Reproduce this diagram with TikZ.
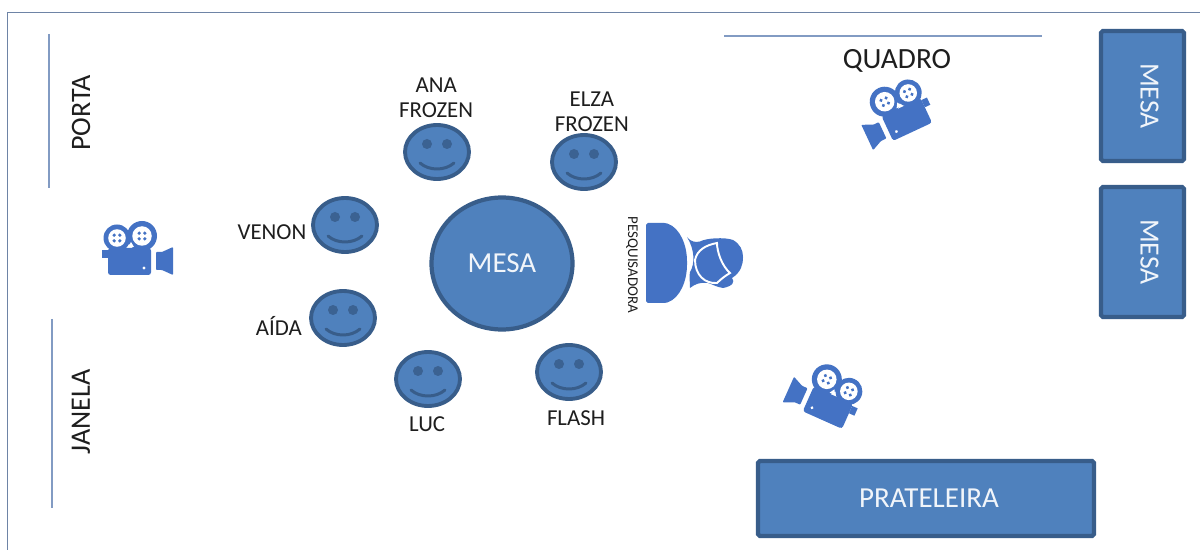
\documentclass[tikz,border=0pt]{standalone}
\usepackage{fontspec}
\setmainfont{Carlito}
\usepackage[dvipsnames]{xcolor}
\usetikzlibrary{positioning,shapes.geometric}
\definecolor{fillblue}{RGB}{79,129,189}
\definecolor{edgeblue}{RGB}{56,93,138}
\definecolor{iconblue}{RGB}{68,114,196}
\definecolor{wallblue}{RGB}{130,155,195}
\definecolor{textgray}{RGB}{30,30,30}
\tikzset{%
  BoxStyle/.style={draw=edgeblue,fill=fillblue,line width=2.4pt,rounded corners=1pt,text=white!92!fillblue,font=\fontsize{16.5}{20}\selectfont},
  TableStyle/.style={ellipse,draw=edgeblue,fill=fillblue,line width=2.4pt,minimum width=2.82cm,minimum height=2.64cm,inner sep=0pt,text=white!92!fillblue,font=\fontsize{16.5}{20}\selectfont},
  FaceStyle/.style={ellipse,draw=edgeblue,fill=fillblue,line width=2.2pt,minimum width=1.28cm,minimum height=1.08cm},
  NameStyle/.style={text=textgray,align=center,font=\fontsize{13}{14.2}\selectfont,inner sep=0pt},
  WallStyle/.style={text=textgray,font=\fontsize{16}{20}\selectfont,inner sep=0pt},
  WallLine/.style={draw=wallblue,line width=.9pt},
  pics/smile/.style={code={
    \fill[edgeblue!85!fillblue] (-10,-8) circle (5) (10,-8) circle (5);
    \draw[edgeblue,line width=1.7pt,line cap=round] (-17,11) .. controls (-8,19) and (8,19) .. (17,11);
  }},
  pics/movie/.style={code={
    \fill[iconblue,rounded corners=1.5pt] (-30,1) rectangle (13,28);
    \fill[iconblue] (-36,3) rectangle (-30,11);
    \fill[iconblue,rounded corners=.5pt] (18,5) -- (24,5) -- (35,0) -- (35,28) -- (24,23) -- (18,23) -- cycle;
    \foreach \px/\py/\pr in {-21/-9/13.5,4/-11/15}{
      \fill[iconblue] (\px,\py) circle (\pr);
      \fill[white] (\px,\py) circle ({\pr*.65});
      \foreach \ang in {45,135,225,315}
        \fill[iconblue] (\px,\py) ++(\ang:4) circle (1.8);
    }
    \fill[white] (-7,-5) -- (-10,0) -- (-4,0) -- cycle;
    \fill[white] (6,21) circle (1.6);
  }}
}
\begin{document}
\begin{tikzpicture}[x=.02cm,y=-.02cm]
  \useasboundingbox (0,0) rectangle (1200,550);
  \fill[white] (0,0) rectangle (1200,550);
  % frame and walls
  \draw[draw=wallblue!85!black,line width=.9pt] (7.5,550) -- (7.5,12.5) -- (1200,12.5);
  \draw[WallLine] (49,34) -- (49,188);
  \draw[WallLine] (52,319) -- (52,508);
  \draw[WallLine] (724,36) -- (1042,36);
  \node[WallStyle,rotate=90] (porta) at (81,113) {PORTA};
  \node[WallStyle,rotate=90] (janela) at (81,412) {JANELA};
  \node[WallStyle,font=\fontsize{16.7}{20}\selectfont] (quadro) at (897,61) {QUADRO};
  % furniture
  \node[TableStyle] (mesa) at (502,263.5) {MESA};
  \node[BoxStyle,rotate=-90,minimum width=2.6cm,minimum height=1.66cm,text depth=8pt,font=\fontsize{15.8}{20}\selectfont] (mesaA) at (1142.5,96) {MESA};
  \node[BoxStyle,rotate=-90,minimum width=2.6cm,minimum height=1.66cm,text depth=8pt,font=\fontsize{15.8}{20}\selectfont] (mesaB) at (1142.5,252) {MESA};
  \node[BoxStyle,minimum width=6.72cm,minimum height=1.5cm] (prateleira) at (926,498.5) {\hspace*{3.4pt}PRATELEIRA};
  % children
  \foreach \name/\fx/\fy in {ana/437/152,elza/584/162,venon/345/225,aida/343/318,luc/428/379,flash/569/372}{
    \node[FaceStyle] (\name) at (\fx,\fy) {};
    \pic at (\fx,\fy) {smile};
  }
  \node[NameStyle,above=3pt of ana,xshift=-.5pt] (anaName) {ANA\\FROZEN};
  \node[NameStyle,above=.5pt of elza,xshift=4.5pt] (elzaName) {ELZA\\FROZEN};
  \node[NameStyle,left=2.5pt of venon,yshift=-4pt] (venonName) {VENON};
  \node[NameStyle,left=4pt of aida,yshift=-4.5pt] (aidaName) {AÍDA};
  \node[NameStyle,below=5pt of luc,xshift=-.5pt] (lucName) {LUC};
  \node[NameStyle,below=5.5pt of flash,xshift=4pt] (flashName) {FLASH};
  % researcher
  \fill[iconblue,rounded corners=1pt] (646,223) -- (666,223)
    .. controls (680,228) and (687,245) .. (687,263)
    .. controls (687,281) and (680,298) .. (666,303) -- (646,303) -- cycle;
  \fill[iconblue] (687,237) .. controls (692,243) and (696,242) .. (700,241.5)
    .. controls (706,238) and (725,237) .. (733,240)
    .. controls (740,244) and (743,250) .. (743,257)
    .. controls (743,265) and (741,272) .. (732,278)
    .. controls (735,282) and (733,286) .. (723,288)
    .. controls (716,287) and (712,284) .. (708,283)
    .. controls (700,282) and (695,284) .. (690,288)
    .. controls (690,282) and (689,276) .. (690,272)
    .. controls (695,264) and (695,250) .. (687,237);
  \draw[white,line width=1.1pt] (695,260) .. controls (697,250) and (706,245) .. (717,243)
    .. controls (717,252) and (722,266) .. (730,273)
    .. controls (725,276) and (721,279) .. (717,283)
    .. controls (705,284) and (695,275) .. (695,260);
  \node[NameStyle,rotate=-90,font=\fontsize{8.5}{11}\selectfont] (pesquisadora) at (632,265) {PESQUISADORA};
  % cameras
  \pic at (138,247) {movie};
  \pic[rotate=25,xscale=-1] at (893,110) {movie};
  \pic[rotate=-24,xscale=-1] at (826,391) {movie};
\end{tikzpicture}
\end{document}
